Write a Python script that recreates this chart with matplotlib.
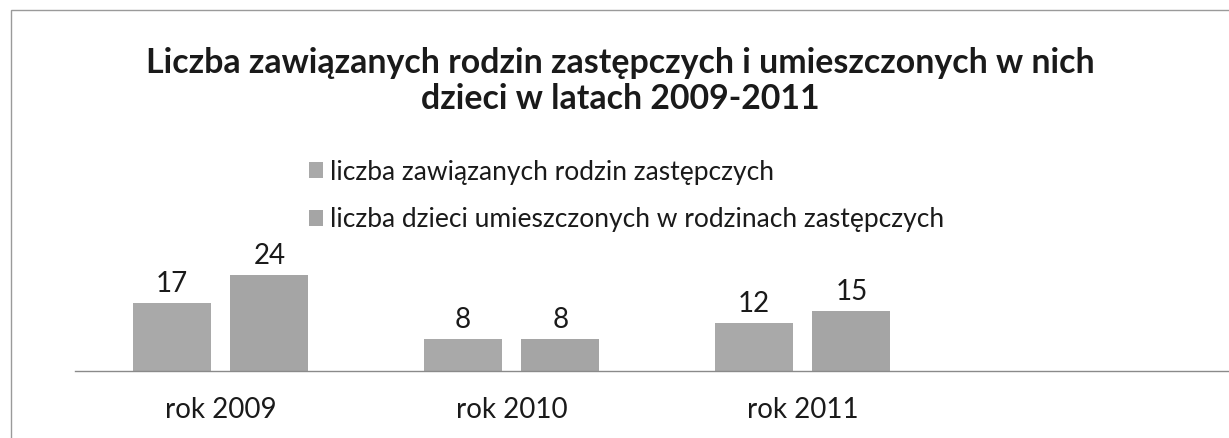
import matplotlib.pyplot as plt
import numpy as np
from matplotlib.patches import Rectangle

plt.rcParams['font.family'] = ['Lato', 'DejaVu Sans']

years = ['rok 2009', 'rok 2010', 'rok 2011']
rodziny = [17, 8, 12]
dzieci = [24, 8, 15]
series_names = ['liczba zawiązanych rodzin zastępczych',
                'liczba dzieci umieszczonych w rodzinach zastępczych']
title = 'Liczba zawiązanych rodzin zastępczych i umieszczonych w nich\ndzieci w latach 2009-2011'

W, H = 1229, 438
fig = plt.figure(figsize=(W / 100, H / 100), dpi=100)

# frame of the chart area (scan shows left + top edges)
fig.patches.append(Rectangle((11 / W, -0.1), 1.2, (H - 10) / H + 0.1,
                             transform=fig.transFigure, fill=False,
                             edgecolor='#9a9a9a', linewidth=1.0))

ax = fig.add_axes([75 / W, (H - 371) / H, 1164 / W, 100 / H])
x = np.arange(len(years))
bw = 0.268
off = 0.168
b1 = ax.bar(x - off, rodziny, bw, color='#a9a9a9')
b2 = ax.bar(x + off, dzieci, bw, color='#a5a5a5')

for bars, vals in ((b1, rodziny), (b2, dzieci)):
    for r, v in zip(bars, vals):
        ax.annotate(str(v), (r.get_x() + r.get_width() / 2, v),
                    xytext=(0, 14), textcoords='offset points',
                    ha='center', va='center', fontsize=20, color='#1a1a1a')

ax.set_xlim(-0.5, 3.5)
ax.set_ylim(0, 25)
ax.set_xticks(x)
ax.set_xticklabels(years, fontsize=20, color='#1a1a1a')
ax.tick_params(axis='x', length=0, pad=19)
ax.set_yticks([])
for s in ['top', 'left', 'right']:
    ax.spines[s].set_visible(False)
ax.spines['bottom'].set_color('#8a8a8a')
ax.spines['bottom'].set_linewidth(1.0)
ax.patch.set_alpha(0)

fig.text(620 / W, 1 - 81 / H, title, ha='center', va='center',
         fontsize=24.4, fontweight='bold', color='#1a1a1a', linespacing=1.12)

fig.legend([b1, b2], series_names, loc='upper left',
           bbox_to_anchor=(298 / W, 1 - 149 / H), frameon=False,
           fontsize=19.0, handlelength=0.55, handleheight=0.55,
           handletextpad=0.25, labelspacing=0.85, borderaxespad=0,
           labelcolor='#1a1a1a')

fig.savefig('out.png', dpi=100)
